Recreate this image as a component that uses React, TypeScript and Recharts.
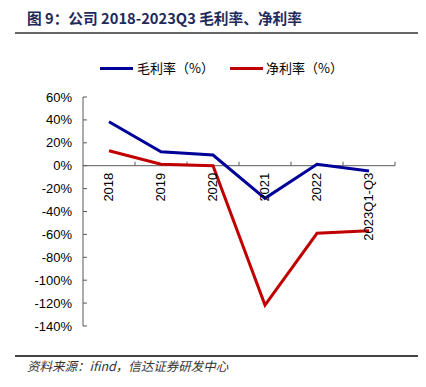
import React from 'react';
import { LineChart, Line, XAxis, YAxis, ReferenceLine, LabelList } from 'recharts';

const categories = ['2018', '2019', '2020', '2021', '2022', '2023Q1-Q3'];
const grossMargin = [38.4, 12.2, 9.3, -28.5, 1.2, -4.6];
const netMargin = [13.1, 1.2, 0.0, -121.7, -59.0, -56.8];
const yTicks = [60, 40, 20, 0, -20, -40, -60, -80, -100, -120, -140];
const grossName = '毛利率（%）';
const netName = '净利率（%）';

const data = categories.map((c, i) => ({ cat: c, gross: grossMargin[i], net: netMargin[i], zero: 0 }));

const FONT = 'Arial, "Liberation Sans", "Noto Sans CJK SC", sans-serif';
const AXIS = '#595959';

const YTick = (props: any) => {
  const { x, y, payload } = props;
  return (
    <g>
      <line x1={x} y1={y} x2={x + 4} y2={y} stroke={AXIS} strokeWidth={1} />
      <text x={x - 11} y={y} textAnchor="end" dominantBaseline="central" fontSize={13} fontFamily={FONT} fill="#000">
        {payload.value}%
      </text>
    </g>
  );
};

const CatLabel = (props: any) => {
  const { x, y, value } = props;
  const tx = x;
  const ty = y + 7;
  return (
    <text x={tx} y={ty} transform={`rotate(-90, ${tx}, ${ty})`} textAnchor="end" dominantBaseline="central" fontSize={13} fontFamily={FONT} fill="#000">
      {value}
    </text>
  );
};

const ZeroAxis = (props: any) => {
  const { x1, y1, x2, y2 } = props;
  const n = categories.length;
  const ticks = [];
  for (let i = 1; i <= n; i++) {
    const tx = x1 + ((x2 - x1) * i) / n;
    ticks.push(<line key={i} x1={tx} y1={y1} x2={tx} y2={y1 - 4} stroke={AXIS} strokeWidth={1} />);
  }
  return (
    <g>
      <line x1={x1} y1={y1} x2={x2} y2={y2} stroke={AXIS} strokeWidth={1} />
      {ticks}
    </g>
  );
};

export default function App() {
  return (
    <div style={{ position: 'absolute', left: 0, top: 0, width: 426, height: 387, background: '#fff', overflow: 'hidden' }}>
      <div style={{ position: 'absolute', left: 27, top: 8, fontFamily: '"Noto Sans CJK SC", Arial, sans-serif', fontWeight: 'bold', fontSize: 14.7, color: '#1f2a5c', whiteSpace: 'nowrap', lineHeight: '20px' }}>
        图 9：公司 2018-2023Q3 毛利率、净利率
      </div>
      <div style={{ position: 'absolute', left: 15, top: 32, width: 403, height: 2, background: '#666' }} />

      <div style={{ position: 'absolute', left: 100, top: 67, width: 33, height: 3, background: '#000099' }} />
      <div style={{ position: 'absolute', left: 137, top: 59, fontFamily: '"Noto Sans CJK SC", sans-serif', fontSize: 13, color: '#000', whiteSpace: 'nowrap', lineHeight: '18px' }}>
        {grossName}
      </div>
      <div style={{ position: 'absolute', left: 230, top: 67, width: 33, height: 3, background: '#C00000' }} />
      <div style={{ position: 'absolute', left: 266, top: 59, fontFamily: '"Noto Sans CJK SC", sans-serif', fontSize: 13, color: '#000', whiteSpace: 'nowrap', lineHeight: '18px' }}>
        {netName}
      </div>

      <div style={{ position: 'absolute', left: 0, top: 0 }}>
        <LineChart width={426} height={387} data={data} margin={{ top: 97, right: 31, bottom: 61, left: 33 }}>
          <XAxis dataKey="cat" hide height={0} padding={{ left: 26, right: 26 }} />
          <YAxis
            width={50}
            domain={[-140, 60]}
            ticks={yTicks}
            interval={0}
            tickLine={false}
            tickSize={0}
            tickMargin={0}
            axisLine={{ stroke: AXIS, strokeWidth: 1 }}
            tick={<YTick />}
          />
          <ReferenceLine y={0} shape={<ZeroAxis />} />
          <Line dataKey="zero" stroke="none" dot={false} activeDot={false} isAnimationActive={false}>
            <LabelList dataKey="cat" content={<CatLabel />} />
          </Line>
          <Line dataKey="gross" name={grossName} stroke="#000099" strokeWidth={3} dot={false} isAnimationActive={false} />
          <Line dataKey="net" name={netName} stroke="#C00000" strokeWidth={3} dot={false} isAnimationActive={false} />
        </LineChart>
      </div>

      <div style={{ position: 'absolute', left: 15, top: 355, width: 403, height: 1.5, background: '#444' }} />
      <div style={{ position: 'absolute', left: 27, top: 358, fontFamily: '"Noto Sans CJK SC", sans-serif', fontStyle: 'italic', fontSize: 12.5, color: '#333', whiteSpace: 'nowrap', lineHeight: '16px' }}>
        资料来源：ifind，信达证券研发中心
      </div>
    </div>
  );
}
